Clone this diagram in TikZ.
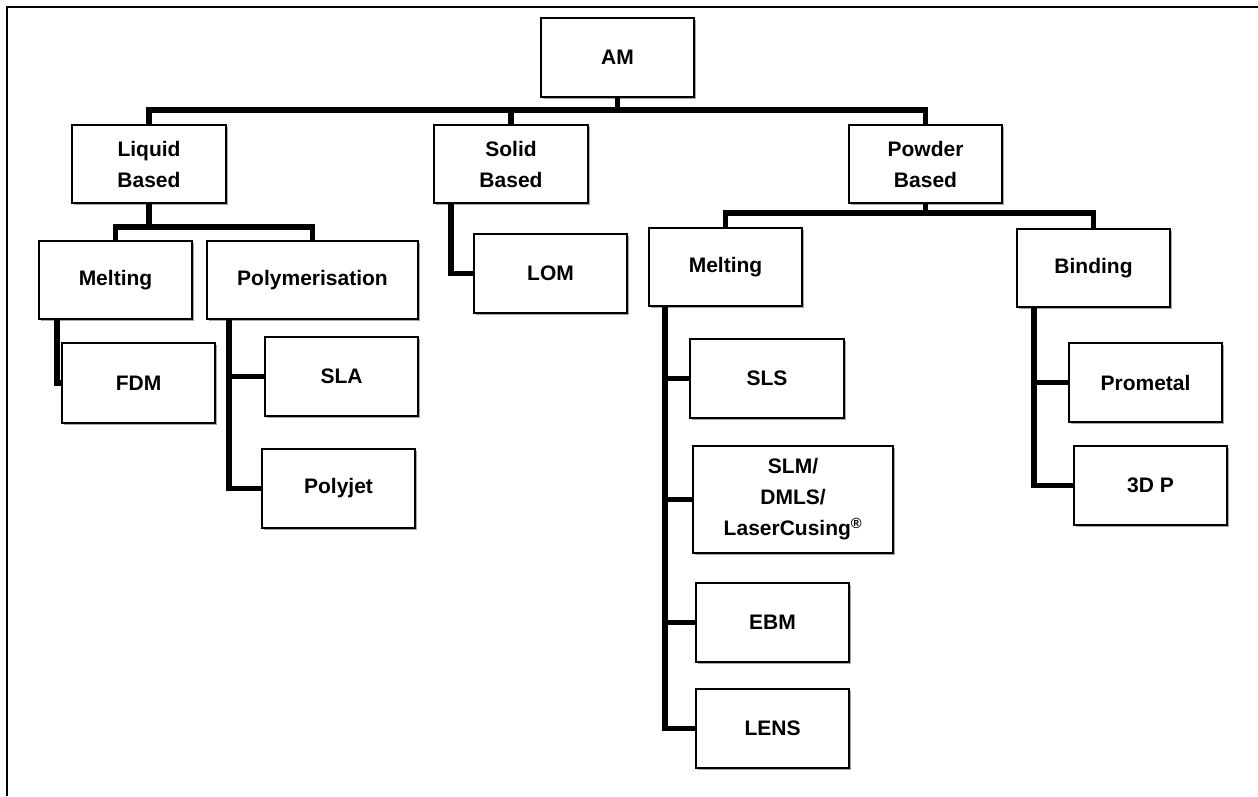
\documentclass[tikz,border=0pt]{standalone}
\usepackage{fontspec}
\setmainfont{Liberation Sans}
\usetikzlibrary{shadows}
\begin{document}
\begin{tikzpicture}[x=1pt,y=-1pt,
  box/.style={draw=black,line width=1.5pt,fill=white,inner sep=0pt,align=center,
    minimum width=153pt,minimum height=78pt,
    font=\fontsize{21}{31}\selectfont\bfseries,
    drop shadow={shadow xshift=1.5pt,shadow yshift=-2pt,opacity=0.35,fill=black}},
  conn/.style={line width=5.5pt,line cap=butt,line join=miter}]
\useasboundingbox (0,0) rectangle (1258,796);
\draw[line width=2.5pt] (1258,7) -- (7,7) -- (7,796);
% connectors
\coordinate (busA) at (617.5,110);
\coordinate (busL) at (149,227);
\coordinate (busP) at (925.5,213);
\coordinate (lomx) at (451,0);
\coordinate (mlx) at (57,0);
\coordinate (px) at (229,0);
\coordinate (mpx) at (665,0);
\coordinate (bdx) at (1034,0);
% nodes
\node[box,minimum height=79pt] (am) at (617.5,57.5) {AM};
\node[box,minimum width=154pt] (lb) at (149,164) {Liquid\\Based};
\node[box,minimum width=154pt] (sb) at (511,164) {Solid\\Based};
\node[box] (pb) at (925.5,164) {Powder\\Based};
\node[box] (ml) at (115.5,280) {Melting};
\node[box,minimum width=211pt] (poly) at (312.5,280) {Polymerisation};
\node[box,minimum height=79pt] (lom) at (550.5,273.5) {LOM};
\node[box] (mp) at (725.5,267) {Melting};
\node[box] (bd) at (1093.5,268) {Binding};
\node[box,minimum height=80pt] (fdm) at (138.5,383) {FDM};
\node[box,minimum height=79pt] (sla) at (341.5,376.5) {SLA};
\node[box,minimum height=79pt] (pj) at (338.5,488.5) {Polyjet};
\node[box,minimum width=154pt,minimum height=79pt] (sls) at (767,378.5) {SLS};
\node[box,minimum width=200pt,minimum height=107pt] (slm) at (793,499.5) {SLM/\\DMLS/\\LaserCusing\textsuperscript{®}};
\node[box,minimum height=79pt] (ebm) at (772.5,622.5) {EBM};
\node[box,minimum height=79pt] (lens) at (772.5,728.5) {LENS};
\node[box,minimum height=79pt] (prom) at (1145.5,382.5) {Prometal};
\node[box,minimum height=79pt] (tdp) at (1150.5,485.5) {3D P};
% level 1
\draw[conn] (am.south) -- (busA);
\draw[conn] (lb.north) -- (lb.north |- busA) -- (pb.north |- busA) -- (pb.north);
\draw[conn] (sb.north) -- (sb.north |- busA);
% liquid based
\draw[conn] (lb.south) -- (busL);
\draw[conn] (ml.north) -- (ml.north |- busL) -- (poly.north |- busL) -- (poly.north);
\draw[conn] (ml.south -| mlx) |- (fdm.west);
\draw[conn] (poly.south -| px) |- (pj.west);
\draw[conn] (sla.west) -- (sla.west -| px);
% solid based
\draw[conn] (sb.south -| lomx) |- (lom.west);
% powder based
\draw[conn] (pb.south) -- (busP);
\draw[conn] (mp.north) -- (mp.north |- busP) -- (bd.north |- busP) -- (bd.north);
\draw[conn] (mp.south -| mpx) |- (lens.west);
\draw[conn] (sls.west) -- (sls.west -| mpx);
\draw[conn] (slm.west) -- (slm.west -| mpx);
\draw[conn] (ebm.west) -- (ebm.west -| mpx);
\draw[conn] (bd.south -| bdx) |- (tdp.west);
\draw[conn] (prom.west) -- (prom.west -| bdx);
\end{tikzpicture}
\end{document}
